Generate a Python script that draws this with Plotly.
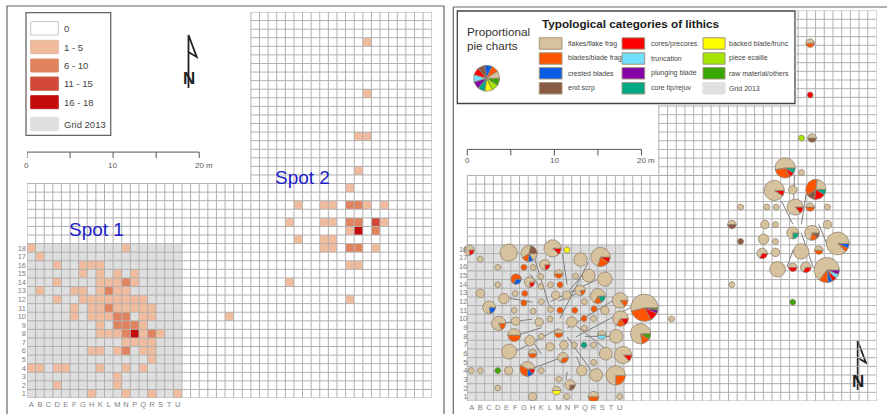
import numpy as np
import plotly.graph_objects as go

# ---------- categories / labels ----------
COL_LETTERS = list("ABCDEFGHKLMNPQRSTU")
ROW_LABELS = [str(i) for i in range(1, 19)]
N_COLS, N_ROWS = 47, 45
DENSITY_LABELS = ["0", "1 - 5", "6 - 10", "11 - 15", "16 - 18", "Grid 2013"]
SCALE_TICKS = [0, 5, 10, 15, 20]
SCALE_TEXT = {0: "0", 10: "10", 20: "20 m"}

# ---------- density map: finds per square (row -> column letters) ----------
SPOT1_1_5 = {18: "AN", 17: "B", 16: "DGHK", 15: "GKMP", 14: "DKLMP", 13: "BFGKMN", 12: "DGHKLMNPQ",
             11: "FHKMNPQR", 10: "FHKLQR", 9: "KQ", 8: "KLMQS", 7: "NPQR", 6: "HKMQR", 5: "R",
             4: "ABDEKNQ", 3: "M", 2: "DM", 1: "HNRU"}
SPOT1_6_10 = {14: "N", 13: "L", 11: "L", 10: "MN", 9: "MNP", 8: "NR", 6: "N"}
SPOT1_16_18 = {8: "P"}
# remaining squares east of the 2013 grid (column number, row number)
OTHER_1_5 = [(24, 10), (40, 42), (40, 36), (39, 31), (40, 31), (39, 27), (38, 25), (32, 23), (35, 23), (36, 23),
             (40, 23), (42, 23), (31, 21), (35, 21), (36, 21), (42, 21), (38, 20), (32, 19), (35, 19), (36, 19),
             (35, 18), (36, 18), (41, 18), (38, 16), (39, 16), (31, 14), (38, 12)]
OTHER_6_10 = [(38, 23), (39, 23), (38, 21), (39, 21), (41, 20), (38, 18), (39, 18)]
OTHER_11_15 = [(41, 21)]
OTHER_16_18 = [(39, 20)]

# ---------- typology ----------
FL, BL, CR, ES, CO, TR, PL, CT, BK, PE, RM = ("flakes", "blades", "crested", "end", "cores", "trunc", "plunging",
                                              "tip", "backed", "ecaille", "raw")
TYPE_COLORS = {FL: "#d7c29e", BL: "#ff5500", CR: "#0a5ce6", ES: "#895a44", CO: "#ff0000", TR: "#73dfff",
               PL: "#8400a8", CT: "#00a884", BK: "#ffff00", PE: "#a3e600", RM: "#38a800"}
LEGEND_COL1 = [(FL, "flakes/flake frag"), (BL, "blades/blade frag"), (CR, "crested blades"), (ES, "end scrp")]
LEGEND_COL2 = [(CO, "cores/precores"), (TR, "truncation"), (PL, "plunging blade"), (CT, "core tip/rejuv")]
LEGEND_COL3 = [(BK, "backed blade/trunc"), (PE, "piece ecaille"), (RM, "raw material/others")]

# squares with flakes only
FLAKE_COL = [4.75, 1.5, 3.5, 3.5, 1.5, 4.2, 5.5, 5.4, 5.55, 7.55, 8.45, 8.45, 9.55, 10.15, 11.4, 8.5, 7.55, 9.55, 9.5,
             8.25, 13, 12.45, 13.95, 15.8, 13.45, 15.8, 14.5, 12, 13.45, 8.5, 7.2, 9.5, 11.1, 12.3, 14.5, 17.1, 15.9,
             4.8, 13.15, 14.8, 14.5, 8.5, 4.75, 1.5, 0.45, 3.5, 10.5, 7.5, 11.45, 17.5, 23.45,
             38.38, 37.39, 31.39, 34.41, 35.48, 41.37, 34.18, 35.4, 41.37, 34.03, 35.4, 35.4, 38.35, 35.63, 30.39]
FLAKE_ROW = [17.1, 16.35, 15.4, 13.4, 12.4, 11.8, 12.4, 10.45, 9.2, 15.4, 14.35, 13.2, 13.4, 12.2, 12.2, 11.45, 10.35,
             10.55, 9.45, 9.1, 16.3, 14.4, 14.45, 14.05, 11.45, 10.45, 9.5, 9.1, 8.4, 7.45, 6.95, 6.25, 6.45, 6.45,
             6.45, 7.45, 5.45, 5.7, 3.5, 3, 4.45, 3.5, 3.5, 3.5, 3.5, 1.5, 2.5, 0.5, 0.5, 0.5, 9.45,
             26.34, 24.35, 22.36, 22.36, 22.36, 22.36, 20.34, 20.34, 20.34, 18.65, 18.39, 17.13, 17.24, 15.18, 13.42]
FLAKE_COUNT = [8, 1, 1, 1, 2, 3, 1, 1, 2, 1, 1, 1, 1, 2, 2, 1, 1, 1, 1, 2, 5, 1, 4.5, 5.5, 1, 2, 1, 3, 1, 1, 3, 2, 2, 1,
               1, 5, 4.5, 6, 3, 4.5, 1, 1, 2, 1, 1, 1, 1, 2, 1, 1, 1,
               1, 2, 1, 1, 1, 1, 2, 1, 2, 3, 1, 2, 6.5, 6.5, 1]

# single artefact of another type
SINGLE_COL = [11.45, 6.5, 6.6, 6.5, 10.65, 10.65, 12.35, 14.55, 13.4, 13.4, 3.5, 39.38, 38.38, 31.39, 37.38]
SINGLE_ROW = [17.4, 15.4, 12.4, 11.3, 13.4, 10.45, 10.45, 10.6, 9.5, 6.45, 3.5, 35.28, 30.31, 18.39, 11.39]
SINGLE_TYPE = [BK, BL, BL, BL, BL, BL, BL, BL, BL, CT, RM, CO, PE, ES, RM]

# mixed squares: parts run clockwise from 3 o'clock
MIX_COL = [0.2, 9.8, 15.3, 7.1, 8.9, 10.5, 5.6, 7.15, 12.95, 15, 2.5, 17.55, 17.6, 20.35, 3.6, 5.4, 10.5, 15.45, 19.9,
           17.9, 7.5, 11, 6.9, 17.05, 11.8, 10.25, 14.5,
           39.38, 39.6, 36.51, 35.25, 40.03, 37.66, 39.38, 30.39, 37.39, 39.6, 42.55, 33.87, 40.37, 37.39, 38.88, 41.29]
MIX_ROW = [17.4, 17.6, 16.6, 17, 15.7, 14.65, 14.05, 13.7, 12.75, 12.1, 10.8, 11.6, 9.5, 10.75, 8.95, 7.6, 7.8, 7.6,
           7.75, 5.3, 5.45, 5, 3.7, 2.95, 1.85, 1.2, 0.5,
           41.25, 30.31, 26.87, 24.27, 24.39, 22.36, 22.36, 20.34, 19.38, 19.38, 18.16, 17.01, 17.39, 15.41, 15.41, 15.1]
MIX_PARTS = [
    [(CO, .7), (FL, 2.3)], [(CO, 1), (FL, 7)], [(CO, 1), (BL, 2), (FL, 7)],
    [(FL, 1.2), (CR, .7), (BL, 1), (FL, 2.6), (ES, 1.5)], [(CO, .7), (FL, 2.3)], [(BL, 1), (FL, 1)],
    [(CR, 1), (BL, 2)], [(CO, .7), (FL, 2.3)], [(BL, .6), (FL, 2.4)], [(CT, 1), (BL, 1), (FL, 4)],
    [(CR, 1), (FL, 3.5)], [(BL, 1), (FL, 5.5)], [(CO, 1), (BL, 1.2), (FL, 4.3)],
    [(RM, .6), (PL, .8), (CO, 2), (BL, 5.8), (FL, 10.8)], [(BL, 1), (FL, 4.5)], [(BL, 2.25), (FL, 2.25)],
    [(BL, 1), (FL, 1)], [(TR, 1), (FL, 1)], [(RM, 1), (BL, 1.5), (FL, 8.5)], [(CO, 1), (FL, 7)], [(BL, 1), (FL, 1)],
    [(BL, 1), (FL, 2)], [(CO, .7), (CR, .8), (BL, 2), (FL, 2.5)], [(BL, 2.5), (FL, 7.5)], [(ES, .8), (FL, 2.2)],
    [(BK, 1), (FL, 1)], [(BL, 1.5), (FL, 1.5)],
    [(BL, 1), (FL, 1)], [(ES, 1), (FL, 1)], [(CT, 1), (CO, .9), (BL, 3.3), (FL, 5.8)], [(CO, 1), (FL, 10)],
    [(CT, 1), (CO, 2), (ES, 1.5), (BL, 4), (FL, 2.5)], [(CO, 1), (FL, 6)], [(BL, 1), (FL, 1)], [(ES, 1), (FL, 1)],
    [(CT, 1), (FL, 3)], [(ES, .8), (BL, .9), (FL, 4.3)], [(CR, 1), (BL, .8), (FL, 12.2)], [(CO, 1), (FL, 2)],
    [(BL, 1), (FL, 1)], [(CO, 1), (FL, 1)], [(CO, 1), (FL, 2)],
    [(PL, 1), (TR, 1), (CO, 1), (CR, 1), (BL, 2), (FL, 11)],
]
KEY_PIE_PARTS = [(RM, 1.65), (PE, 1.65), (BK, 1.65), (CT, 1.65), (PL, 1.65), (TR, 1.65), (CO, 1.65), (ES, 1.65),
                 (CR, 1.65), (BL, 1.65), (FL, 1.65)]
KEY_PIE_CELL = (2.22, 37.2)

# leader lines from displaced pies to their squares (col0, row0, col1, row1)
LEADERS = [(10.93, 16.93, 11.47, 13.42), (4.89, 11.83, 7.49, 11.39), (7.57, 16.93, 9.4, 11.0), (4.13, 8.98, 7.49, 9.44),
           (6.04, 7.68, 8.53, 8.45), (5.66, 5.78, 10.44, 8.33), (7.57, 6.8, 8.53, 5.39), (7.19, 3.63, 11.2, 5.16),
           (11.47, 7.38, 14.53, 3.1), (11.47, 9.48, 16.17, 5.77), (13.5, 7.45, 17.13, 7.45), (12.46, 7.38, 18.85, 10.82),
           (11.47, 8.41, 16.74, 11.58), (10.63, 9.48, 13.88, 15.98), (9.56, 11.47, 14.83, 13.95),
           (10.44, 11.5, 13.5, 12.73), (11.47, 12.42, 13.76, 15.21), (11.47, 3.36, 11.32, 2.41),
           (7.19, 14.65, 8.53, 12.92), (12.54, 5.1, 13.2, 3.5),
           (37.58, 26.11, 37.47, 22.48), (36.09, 23.05, 37.39, 20.37), (38.92, 23.89, 38.38, 20.37),
           (40.37, 20.37, 41.29, 18.16), (38.35, 19.38, 39.76, 15.33), (37.47, 17.51, 36.7, 15.41)]

# ---------- styles ----------
W, H = 887, 414
FONT = "Liberation Sans, Arial, sans-serif"
DENSITY_COLORS = ["#dfdfdf", "#f1bb9d", "#e2835f", "#d2493a", "#c40a0a"]
GRID_COLOR = "#b0b0b0"
PIE_EDGE = "#8f8270"
RADIUS_UNIT = 0.35
TEXT = "#444444"


def px(x):
    return x / W


def py(y):
    return 1 - y / H


# ---------- build density matrix ----------
z = [[None] * N_COLS for _ in range(N_ROWS)]
for r in range(18):
    for c in range(18):
        z[r][c] = 0
for cls, table in ((1, SPOT1_1_5), (2, SPOT1_6_10), (4, SPOT1_16_18)):
    for row, letters in table.items():
        for letter in letters:
            z[row - 1][COL_LETTERS.index(letter)] = cls
for cls, cells in ((1, OTHER_1_5), (2, OTHER_6_10), (3, OTHER_11_15), (4, OTHER_16_18)):
    for col, row in cells:
        z[row - 1][col - 1] = cls
gray_only = [[0 if r < 18 and c < 18 else None for c in range(N_COLS)] for r in range(N_ROWS)]
centers_x = [c + 0.5 for c in range(N_COLS)]
centers_y = [r + 0.5 for r in range(N_ROWS)]
scale = []
for i, color in enumerate(DENSITY_COLORS):
    scale += [[i / 5, color], [(i + 1) / 5, color]]

fig = go.Figure()


def heat(zz, xa, ya):
    fig.add_trace(go.Heatmap(z=zz, x=centers_x, y=centers_y, xaxis=xa, yaxis=ya, colorscale=scale, zmin=-0.5, zmax=4.5,
                             showscale=False, hoverinfo="skip", zsmooth=False))


def grid_lines(segments, xa, ya, color=GRID_COLOR):
    xs, ys = [], []
    for x0, y0, x1, y1 in segments:
        xs += [x0, x1, None]
        ys += [y0, y1, None]
    fig.add_trace(go.Scatter(x=xs, y=ys, xaxis=xa, yaxis=ya, mode="lines", hoverinfo="skip", showlegend=False,
                             line=dict(color=color, width=1)))


# left grid: full width up to row 25, east part to the top
left_seg = [(0, r, N_COLS, r) for r in range(26)] + [(26, r, N_COLS, r) for r in range(26, N_ROWS + 1)]
left_seg += [(c, 0, c, 25) for c in range(26)] + [(c, 0, c, N_ROWS) for c in range(26, N_COLS + 1)]
# right grid: cut around the legend box
BOX_COL, BOX_ROW = 37.58, 34.1
right_seg = [(0, r, N_COLS, r) for r in range(27)] + [(22, r, N_COLS, r) for r in range(26, 35)]
right_seg += [(BOX_COL, r, N_COLS, r) for r in range(35, N_ROWS + 1)]
right_seg += [(c, 0, c, 26) for c in range(22)] + [(c, 0, c, BOX_ROW) for c in range(22, 38)]
right_seg += [(c, 0, c, N_ROWS) for c in range(38, N_COLS + 1)]

heat(z, "x", "y")
grid_lines(left_seg, "x", "y")
heat(gray_only, "x2", "y2")
grid_lines(right_seg, "x2", "y2")
grid_lines(LEADERS, "x2", "y2", "#7d7d7d")


def pie(col, row, parts):
    total = sum(v for _, v in parts)
    radius = RADIUS_UNIT * np.sqrt(total)
    start = 0.0
    for cat, v in parts:
        end = start + v / total * 2 * np.pi
        a = np.linspace(start, end, max(6, int((end - start) * 14)))
        xs = col + radius * np.cos(a)
        ys = row - radius * np.sin(a)
        if len(parts) > 1:
            xs = np.r_[col, xs, col]
            ys = np.r_[row, ys, row]
        fig.add_trace(go.Scatter(x=xs, y=ys, xaxis="x2", yaxis="y2", mode="lines", fill="toself",
                                 fillcolor=TYPE_COLORS[cat], hoverinfo="skip", showlegend=False,
                                 line=dict(color=PIE_EDGE, width=0.8)))
        start = end


for col, row, n in zip(FLAKE_COL, FLAKE_ROW, FLAKE_COUNT):
    pie(col, row, [(FL, n)])
for col, row, cat in zip(SINGLE_COL, SINGLE_ROW, SINGLE_TYPE):
    pie(col, row, [(cat, 1)])
for col, row, parts in zip(MIX_COL, MIX_ROW, MIX_PARTS):
    pie(col, row, parts)
pie(KEY_PIE_CELL[0], KEY_PIE_CELL[1], KEY_PIE_PARTS)

# scale bars, in metres = grid squares
for xa, ya, row_y, drop in (("x", "y", 28.67, 0.7), ("x2", "y2", 29.0, 0.7)):
    xs, ys = [0, 20, None], [row_y, row_y, None]
    for t in SCALE_TICKS:
        xs += [t, t, None]
        ys += [row_y, row_y - drop, None]
    fig.add_trace(go.Scatter(x=xs, y=ys, xaxis=xa, yaxis=ya, mode="lines", hoverinfo="skip", showlegend=False,
                             line=dict(color="#555555", width=1)))

shapes, notes = [], []


def rect(x0, y0, x1, y1, fill, line="#666666", width=1.0):
    shapes.append(dict(type="rect", xref="paper", yref="paper", x0=px(x0), x1=px(x1), y0=py(y0), y1=py(y1),
                       fillcolor=fill, line=dict(color=line, width=width), layer="below"))


def seg(pts, color="#555555", width=1.3):
    d = "M" + " L".join(f"{px(x):.5f},{py(y):.5f}" for x, y in pts)
    shapes.append(dict(type="path", xref="paper", yref="paper", path=d, line=dict(color=color, width=width),
                       layer="below"))


def note(x, y, text, size=8, color=TEXT, anchor="left", **kw):
    notes.append(dict(x=px(x), y=py(y), xref="paper", yref="paper", text=text, showarrow=False, xanchor=anchor,
                      yanchor="middle", borderpad=0, font=dict(family=FONT, size=size, color=color), **kw))


# frames
rect(7, 6, 444, 418, "rgba(0,0,0,0)", "#666666", 1.2)
seg([(453.3, 418), (453.3, 7), (890, 7)], "#666666", 1.2)

# left legend
rect(26, 12.7, 110.7, 135.3, "#ffffff", "#666666", 1.3)
KEY_Y = [(21.7, 35), (40.3, 53.7), (59, 72), (77, 90.3), (95.7, 108.7), (117.3, 130.7)]
KEY_FILL = ["#ffffff"] + DENSITY_COLORS[1:] + [DENSITY_COLORS[0]]
KEY_EDGE = ["#c8c8c8", "#e0b9a0", "#d98b6c", "#cc5a48", "#c02020", "#dfdfdf"]
for (y0, y1), fill, edge, lab in zip(KEY_Y, KEY_FILL, KEY_EDGE, DENSITY_LABELS):
    rect(30.7, y0, 58.3, y1, fill, edge, 1)
    note(62.5, (y0 + y1) / 2, lab, 9.5)

# north arrows
for top, bot, ax, nx, ny in ((35, 88, 188.5, 189, 78.5), (340.7, 390, 857.7, 858, 381.7)):
    seg([(ax, bot), (ax, top), (ax + 8.2, top + 22), (ax, top + 17)], "#222222", 1.8)
    note(nx, ny, "<b>N</b>", 17, "#222222", "center")

# spot labels
note(96, 229, "Spot 1", 19, "#1c1cc8", "center")
note(302.5, 177, "Spot 2", 19, "#1c1cc8", "center")

# scale labels
for t, lab in SCALE_TEXT.items():
    x_left = 26.5 + t * 8.63 + (4.7 if t == 20 else 0)
    x_right = 467.3 + t * 8.72 + (4.7 if t == 20 else 0)
    note(x_left, 165, lab, 8, "#555555", "center")
    note(x_right, 160.3, lab, 8, "#555555", "center")

# right legend
rect(457.3, 11, 795, 103.5, "#ffffff", "#444444", 1.3)
note(465.8, 31, "Proportional", 11.7, "#333333")
note(465.8, 45, "pie charts", 11.7, "#333333")
note(541, 23.7, "<b>Typological categories of lithics</b>", 11.7, "#1a1a1a")
ROW_CY = [43.5, 58.5, 73.3, 88.3]
for x0, x1, tx, entries in ((539.3, 562, 566.5, LEGEND_COL1), (622, 644.7, 650.2, LEGEND_COL2),
                            (703, 725, 728.2, LEGEND_COL3)):
    for cy, (cat, lab) in zip(ROW_CY, entries):
        rect(x0, cy - 5.7, x1, cy + 5.7, TYPE_COLORS[cat], "#a3947a", 1)
        note(tx, cy, lab, 7)
rect(703, ROW_CY[3] - 5.7, 725, ROW_CY[3] + 5.7, DENSITY_COLORS[0], DENSITY_COLORS[0], 1)
note(728.2, ROW_CY[3] + 0.5, "Grid 2013", 7)

axis = dict(showgrid=False, zeroline=False, showline=False, ticks="", fixedrange=True,
            tickfont=dict(family=FONT, size=7.5, color="#808080"))
x_ticks = dict(tickmode="array", tickvals=[i + 0.5 for i in range(18)], ticktext=COL_LETTERS, tickangle=0)
y_ticks = dict(tickmode="array", tickvals=[i + 0.5 for i in range(18)], ticktext=ROW_LABELS)

# the right map's x axis starts west of square A, so the pies on its edge stay whole
WEST_PAD = 1.5
CELL_W = (876.5 - 467.3) / N_COLS

fig.update_layout(
    width=W, height=H, margin=dict(l=0, r=0, t=0, b=0), paper_bgcolor="#ffffff", plot_bgcolor="rgba(0,0,0,0)",
    showlegend=False, shapes=shapes, annotations=notes, font=dict(family=FONT),
    xaxis=dict(domain=[px(27), px(431.7)], range=[0, N_COLS], anchor="y", **axis, **x_ticks),
    yaxis=dict(domain=[py(398), py(12)], range=[0, N_ROWS], anchor="x", **axis, **y_ticks),
    xaxis2=dict(domain=[px(467.3 - WEST_PAD * CELL_W), px(876.5)], range=[-WEST_PAD, N_COLS], anchor="y2",
                **axis, **x_ticks),
    yaxis2=dict(domain=[py(401), py(10.6)], range=[0, N_ROWS], anchor="free", position=px(467.3), **axis, **y_ticks),
)
fig.write_html("out.html", config={"displayModeBar": False}, post_script="document.body.style.margin='0';")
